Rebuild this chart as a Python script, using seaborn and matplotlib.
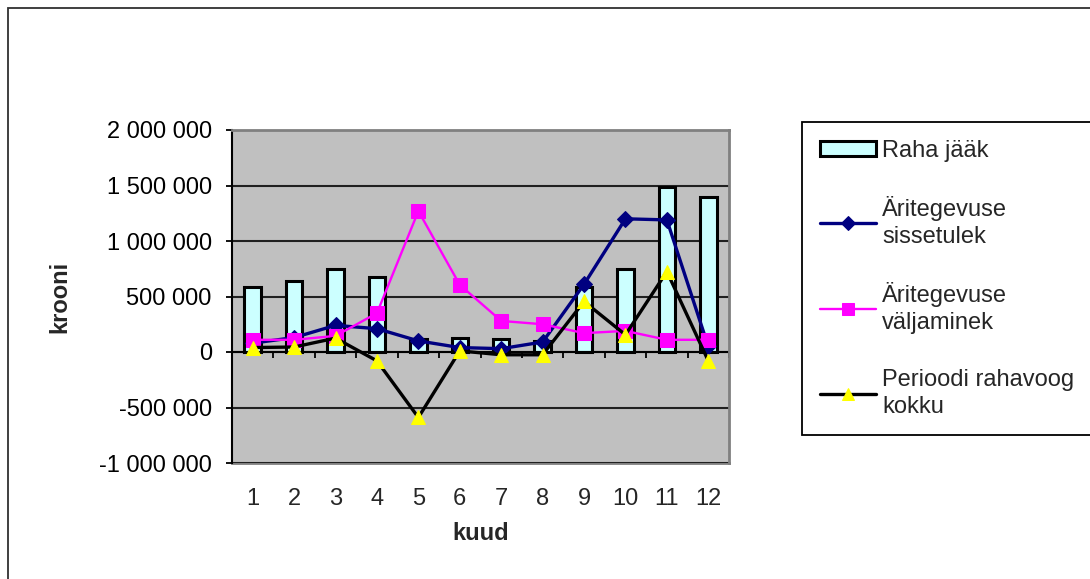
import numpy as np
import matplotlib
matplotlib.use("Agg")
import matplotlib.pyplot as plt
from matplotlib.patches import Rectangle
from matplotlib.ticker import FuncFormatter
import seaborn as sns

months = ["1", "2", "3", "4", "5", "6", "7", "8", "9", "10", "11", "12"]
raha_jaak = [590000, 640000, 750000, 680000, 120000, 130000, 120000, 100000,
             590000, 745000, 1485000, 1400000]
sissetulek = [80000, 130000, 240000, 210000, 100000, 40000, 30000, 90000,
              610000, 1200000, 1190000, 50000]
valjaminek = [110000, 110000, 145000, 350000, 1270000, 605000, 280000, 250000,
              170000, 190000, 110000, 110000]
rahavoog = [40000, 45000, 125000, -80000, -590000, 10000, -25000, -25000,
            455000, 155000, 725000, -80000]
y_ticks = [-1000000, -500000, 0, 500000, 1000000, 1500000, 2000000]

sns.set_style("white")
plt.rcParams["font.family"] = ["Liberation Sans", "DejaVu Sans"]
FS = 17

fig = plt.figure(figsize=(10.9, 5.79), dpi=100)
W, H = 1090, 579
ax = fig.add_axes([232 / W, 1 - 463 / H, (729 - 232) / W, (463 - 130) / H])
ax.set_facecolor("#C0C0C0")

sns.barplot(x=months, y=raha_jaak, color="#CCFFFF", edgecolor="black",
            linewidth=2.2, width=0.4, saturation=1, ax=ax, label="Raha jääk",
            zorder=1)
pos = np.arange(len(months))
sns.lineplot(x=pos, y=sissetulek, color="#000080", linewidth=2.4, marker="D",
             markersize=8, markeredgecolor="#000080", ax=ax,
             label="Äritegevuse\nsissetulek", zorder=3)
sns.lineplot(x=pos, y=valjaminek, color="#FF00FF", linewidth=1.7, marker="s",
             markersize=10.5, markeredgecolor="#FF00FF", ax=ax,
             label="Äritegevuse\nväljaminek", zorder=3)
sns.lineplot(x=pos, y=rahavoog, color="black", linewidth=2.4, marker="^",
             markersize=10.5, markerfacecolor="#FFFF00", markeredgecolor="#FFFF00",
             ax=ax, label="Perioodi rahavoog\nkokku", zorder=4)

if ax.get_legend() is not None:
    ax.get_legend().remove()

ax.set_xlim(-0.5, len(months) - 0.5)
ax.set_ylim(y_ticks[0], y_ticks[-1])
ax.set_yticks(y_ticks)
ax.yaxis.set_major_formatter(FuncFormatter(lambda v, p: f"{v:,.0f}".replace(",", " ")))
ax.yaxis.grid(True, color="#202020", linewidth=1.5)
ax.xaxis.grid(False)
ax.set_axisbelow(True)
ax.tick_params(axis="y", left=True, direction="out", length=4.5, width=1.3,
               pad=10, labelsize=FS, colors="black")

# category axis crossing at zero
ax.spines["bottom"].set_position(("data", 0))
ax.spines["bottom"].set_color("black")
ax.spines["bottom"].set_linewidth(1.5)
ax.spines["bottom"].set_zorder(2)
ax.set_xticks(np.arange(len(months) + 1) - 0.5)
ax.set_xticklabels([])
ax.tick_params(axis="x", bottom=True, direction="out", length=4.5, width=1.3,
               colors="black")
ax.set_xlabel("")
ax.spines["left"].set_color("black")
ax.spines["left"].set_linewidth(1.5)
for s in ["top", "right"]:
    ax.spines[s].set_visible(True)
    ax.spines[s].set_color("#808080")
    ax.spines[s].set_linewidth(2)

sec = ax.secondary_xaxis(0.0)
sec.set_xticks(pos)
sec.set_xticklabels(months)
sec.tick_params(axis="x", length=0, pad=18, labelsize=FS)
sec.spines["bottom"].set_color("#808080")
sec.spines["bottom"].set_linewidth(2)
sec.set_xlabel("kuud", fontsize=FS, fontweight="bold", labelpad=9)

ax.set_ylabel("krooni", fontsize=FS, fontweight="bold", labelpad=20)

handles, labels = ax.get_legend_handles_labels()
order = [labels.index("Raha jääk")] + [i for i, l in enumerate(labels) if l != "Raha jääk"]
handles = [handles[i] for i in order]
labels = [labels[i] for i in order]
leg = fig.legend(handles, labels, loc="upper left",
                 bbox_to_anchor=(802 / W, 1 - 122 / H), borderaxespad=0,
                 fontsize=FS, frameon=True, fancybox=False, edgecolor="black",
                 framealpha=1, borderpad=0.75, handlelength=2.4,
                 handleheight=0.6, handletextpad=0.25, labelspacing=1.45,
                 markerscale=0.85)
for t in leg.get_texts():
    t.set_linespacing(1.3)
leg.get_frame().set_linewidth(1.3)

fig.patches.append(Rectangle((8 / W, -0.5), 1.5, 1.5 - 8 / H,
                             transform=fig.transFigure, fill=False,
                             edgecolor="#303030", linewidth=1.3))

fig.savefig("out.png", dpi=100)
